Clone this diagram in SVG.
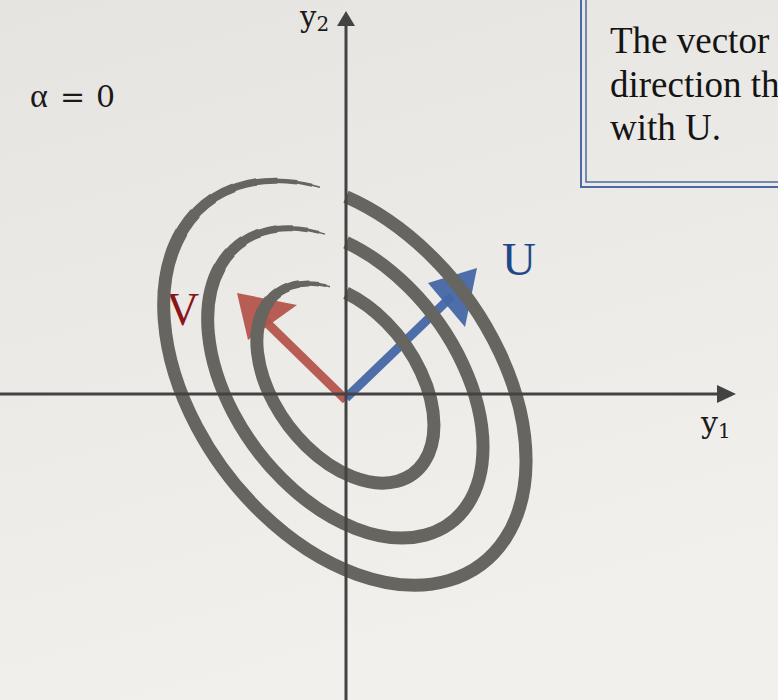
<svg xmlns="http://www.w3.org/2000/svg" xmlns:xlink="http://www.w3.org/1999/xlink" width="778" height="700" viewBox="0 0 778 700">
<defs>
<linearGradient id="bg" x1="0" y1="0" x2="0.3" y2="1">
<stop offset="0" stop-color="#e6e4e0"/>
<stop offset="1" stop-color="#f1f0ed"/>
</linearGradient>
<path id="e1" pathLength="100" d="M346 292.9 A113 71 53 1 1 330 286.7"/>
<path id="e2" pathLength="100" d="M346 242.3 A175 111 53 1 1 325 234.1"/>
<path id="e3" pathLength="100" d="M346 196.7 A227 149 53 1 1 320 187.3"/>
<style>
.ring{fill:none;stroke:#67655f;stroke-width:13}
.m{stroke-dasharray:86.5 100}
.t1{stroke-width:12;stroke-dasharray:0 85 3.5 100}
.t2{stroke-width:10.5;stroke-dasharray:0 87 3.5 100}
.t3{stroke-width:9;stroke-dasharray:0 89 3.5 100}
.t4{stroke-width:7.5;stroke-dasharray:0 91 3.5 100}
.t5{stroke-width:6;stroke-dasharray:0 93 3.3 100}
.t6{stroke-width:4.5;stroke-dasharray:0 95 3 100}
.t7{stroke-width:3;stroke-dasharray:0 96.5 2.8 100}
.t8{stroke-width:1.5;stroke-dasharray:0 98 2 100}
.axis{stroke:#434343;stroke-width:3;fill:none}
.head{fill:#434343}
.math{font-family:"DejaVu Serif","Liberation Serif",serif;fill:#1a1a1a}
.box{font-family:"Liberation Serif",serif;font-size:37px;fill:#141414}
.frame{fill:none;stroke:#4b69a3}
</style>
</defs>
<rect width="778" height="700" fill="url(#bg)"/>
<g id="info-box">
<path class="frame" stroke-width="2" d="M581 -2 V187 H780"/>
<path class="frame" stroke-width="1.5" d="M586 -2 V182 H780"/>
<text class="box" x="610" y="53">The vector</text>
<text class="box" x="610" y="97">direction th</text>
<text class="box" x="610" y="140">with U.</text>
</g>
<g id="alpha-label">
<text class="math" font-size="30" y="107"><tspan x="30" font-family="Liberation Serif" font-size="34">α</tspan><tspan x="60">=</tspan><tspan x="96">0</tspan></text>
</g>
<g id="vector-v">
<line x1="346" y1="400" x2="262" y2="318" stroke="#b4554b" stroke-width="9" stroke-opacity=".95"/>
<polygon points="237,293 297,305 248,340" fill="#b4554b" fill-opacity=".95"/>
<text x="166" y="325" font-family="Liberation Serif" font-size="46" fill="#8a1518">V</text>
</g>
<g id="vector-u">
<line x1="346" y1="398" x2="452" y2="296" stroke="#4667a6" stroke-width="9" stroke-opacity=".95"/>
<polygon points="477,268 428,283 465,327" fill="#4667a6" fill-opacity=".95"/>
<text x="502" y="275" font-family="Liberation Serif" font-size="47" fill="#1f4889">U</text>
</g>
<g id="contours">
<use xlink:href="#e1" class="ring m"/>
<use xlink:href="#e1" class="ring t1"/><use xlink:href="#e1" class="ring t2"/><use xlink:href="#e1" class="ring t3"/><use xlink:href="#e1" class="ring t4"/><use xlink:href="#e1" class="ring t5"/><use xlink:href="#e1" class="ring t6"/><use xlink:href="#e1" class="ring t7"/><use xlink:href="#e1" class="ring t8"/>
<use xlink:href="#e2" class="ring m"/>
<use xlink:href="#e2" class="ring t1"/><use xlink:href="#e2" class="ring t2"/><use xlink:href="#e2" class="ring t3"/><use xlink:href="#e2" class="ring t4"/><use xlink:href="#e2" class="ring t5"/><use xlink:href="#e2" class="ring t6"/><use xlink:href="#e2" class="ring t7"/><use xlink:href="#e2" class="ring t8"/>
<use xlink:href="#e3" class="ring m"/>
<use xlink:href="#e3" class="ring t1"/><use xlink:href="#e3" class="ring t2"/><use xlink:href="#e3" class="ring t3"/><use xlink:href="#e3" class="ring t4"/><use xlink:href="#e3" class="ring t5"/><use xlink:href="#e3" class="ring t6"/><use xlink:href="#e3" class="ring t7"/><use xlink:href="#e3" class="ring t8"/>
</g>
<g id="connectors">
<line class="axis" x1="0" y1="394" x2="720" y2="394"/>
<polygon class="head" points="736,394 717,385 717,403"/>
<line class="axis" x1="346" y1="700" x2="346" y2="24"/>
<polygon class="head" points="346,11 337,26 355,26"/>
</g>
<g id="axis-labels">
<text class="math" x="300" y="27" font-size="29">y<tspan font-size="20" dy="4">2</tspan></text>
<text class="math" x="701" y="433" font-size="30">y<tspan font-size="20" dy="5">1</tspan></text>
</g>
</svg>
